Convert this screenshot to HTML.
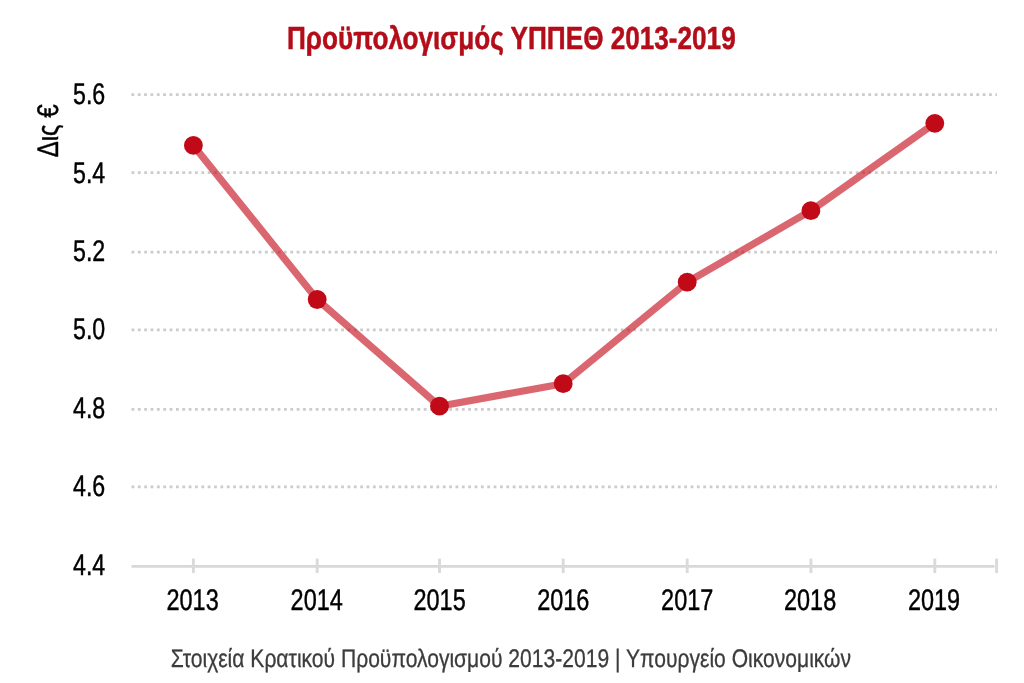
<!DOCTYPE html>
<html lang="el">
<head>
<meta charset="utf-8">
<title>Προϋπολογισμός ΥΠΠΕΘ 2013-2019</title>
<style>
html,body{margin:0;padding:0;background:#fff;}
body{width:1024px;height:683px;overflow:hidden;font-family:"Liberation Sans",sans-serif;}
svg{display:block;filter:blur(0.4px);}
text{font-family:"Liberation Sans",sans-serif;text-rendering:geometricPrecision;}
</style>
</head>
<body>
<svg width="1024" height="683" viewBox="0 0 1024 683">
<rect width="1024" height="683" fill="#ffffff"/>

<!-- title -->
<g transform="translate(511.3,48.8) scale(0.8165,1)">
<text x="0" y="0" text-anchor="middle" font-size="32" font-weight="bold" fill="#b30d1a" stroke="#b30d1a" stroke-width="0.5" stroke-linejoin="round">Προϋπολογισμός ΥΠΠΕΘ 2013-2019</text>
</g>

<!-- gridlines -->
<g stroke="#cccccc" stroke-width="2.8" stroke-dasharray="2.8 3.553" fill="none">
<line x1="131.4" y1="94.7" x2="997" y2="94.7"/>
<line x1="131.5" y1="172.7" x2="997" y2="172.7"/>
<line x1="131.5" y1="252.1" x2="997" y2="252.1"/>
<line x1="131.5" y1="329.9" x2="997" y2="329.9"/>
<line x1="131.5" y1="409.3" x2="997" y2="409.3"/>
<line x1="131.5" y1="486.9" x2="997" y2="486.9"/>
</g>

<!-- axis -->
<g stroke="#d8d8d8" stroke-width="2.9" fill="none">
<line x1="131.5" y1="566.4" x2="994.5" y2="566.4"/>
<line x1="193.4" y1="558.6" x2="193.4" y2="573" stroke="#dadada"/>
<line x1="317.2" y1="558.6" x2="317.2" y2="573" stroke="#dadada"/>
<line x1="439.5" y1="558.6" x2="439.5" y2="573" stroke="#dadada"/>
<line x1="563.2" y1="558.6" x2="563.2" y2="573" stroke="#dadada"/>
<line x1="687.2" y1="558.6" x2="687.2" y2="573" stroke="#dadada"/>
<line x1="810.9" y1="558.6" x2="810.9" y2="573" stroke="#dadada"/>
<line x1="934.8" y1="558.6" x2="934.8" y2="573" stroke="#dadada"/>
<line x1="996.6" y1="558.6" x2="996.6" y2="573" stroke="#dadada"/>
</g>

<!-- data line -->
<polyline points="193.4,145.4 317.2,299.5 439.5,406.2 563.2,383.7 687.2,282.2 810.9,210.7 934.8,123.3" fill="none" stroke="#c40f1d" stroke-opacity="0.63" stroke-width="7.2" stroke-linejoin="round" stroke-linecap="butt"/>
<g fill="#c10a18">
<circle cx="193.4" cy="145.4" r="9.4"/>
<circle cx="317.2" cy="299.5" r="9.4"/>
<circle cx="439.5" cy="406.2" r="9.4"/>
<circle cx="563.2" cy="383.7" r="9.4"/>
<circle cx="687.2" cy="282.2" r="9.4"/>
<circle cx="810.9" cy="210.7" r="9.4"/>
<circle cx="934.8" cy="123.3" r="9.4"/>
</g>

<!-- y tick labels -->
<g font-size="29.8" fill="#000" stroke="#000" stroke-width="0.45" text-anchor="end">
<g transform="translate(105.2,104.0) scale(0.777,1)"><text>5.6</text></g>
<g transform="translate(105.2,182.8) scale(0.777,1)"><text>5.4</text></g>
<g transform="translate(105.2,260.8) scale(0.777,1)"><text>5.2</text></g>
<g transform="translate(105.2,339.4) scale(0.777,1)"><text>5.0</text></g>
<g transform="translate(105.2,417.8) scale(0.777,1)"><text>4.8</text></g>
<g transform="translate(105.2,496.4) scale(0.777,1)"><text>4.6</text></g>
<g transform="translate(105.2,574.8) scale(0.777,1)"><text>4.4</text></g>
</g>

<!-- x tick labels -->
<g font-size="29.8" fill="#000" stroke="#000" stroke-width="0.45" text-anchor="middle">
<g transform="translate(192.6,610.2) scale(0.787,1)"><text>2013</text></g>
<g transform="translate(316.7,610.2) scale(0.787,1)"><text>2014</text></g>
<g transform="translate(439.6,610.2) scale(0.787,1)"><text>2015</text></g>
<g transform="translate(563.3,610.2) scale(0.787,1)"><text>2016</text></g>
<g transform="translate(687.2,610.2) scale(0.787,1)"><text>2017</text></g>
<g transform="translate(810.1,610.2) scale(0.787,1)"><text>2018</text></g>
<g transform="translate(934.0,610.2) scale(0.787,1)"><text>2019</text></g>
</g>

<!-- y label -->
<g transform="translate(58.3,130.8) rotate(-90) scale(0.807,1)">
<text text-anchor="middle" font-size="29.8" fill="#000" stroke="#000" stroke-width="0.45">Δις €</text>
</g>

<!-- caption -->
<g transform="translate(510.9,666.7) scale(0.83,1)">
<text text-anchor="middle" font-size="25.4" fill="#3c3c3c" stroke="#3c3c3c" stroke-width="0.3">Στοιχεία Κρατικού Προϋπολογισμού 2013-2019 | Υπουργείο Οικονομικών</text>
</g>
</svg>
</body>
</html>
